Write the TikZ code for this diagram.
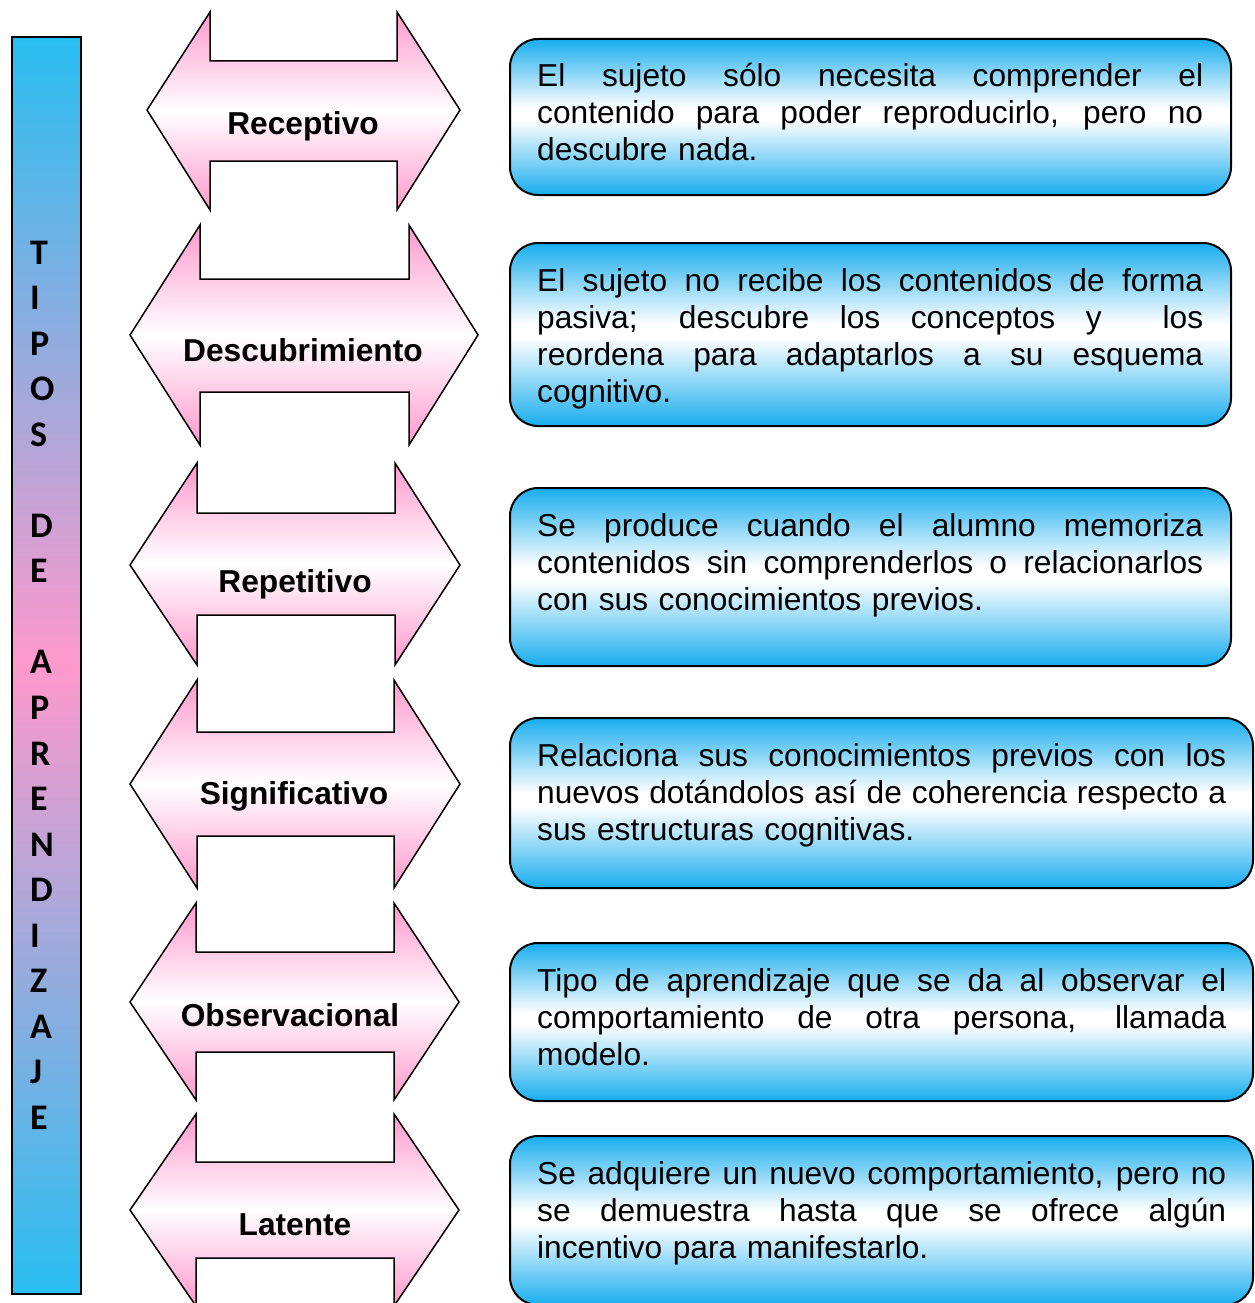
\documentclass[tikz,border=0pt]{standalone}
\usepackage{fontspec}
\setmainfont{Liberation Sans}
\newfontfamily\barfont{Carlito}
\definecolor{bcyan}{RGB}{24,173,238}
\definecolor{barcyan}{RGB}{41,190,240}
\definecolor{barpink}{RGB}{255,153,204}
\definecolor{apink}{RGB}{255,153,204}
\pgfdeclareverticalshading{boxshade}{100bp}{color(0bp)=(bcyan); color(25bp)=(bcyan); color(49bp)=(white); color(53bp)=(white); color(75bp)=(bcyan); color(100bp)=(bcyan)}
\newcommand\JA[1]{\leavevmode\hbox to 666pt{\spaceskip=0.278em plus 1fil minus 0.08em\xspaceskip=\spaceskip #1}}
\newcommand\JB[1]{\leavevmode\hbox to 689pt{\spaceskip=0.278em plus 1fil minus 0.08em\xspaceskip=\spaceskip #1}}
\begin{document}
\begin{tikzpicture}[x=1pt,y=-1pt,
  barbox/.style={draw=black, line width=2pt, top color=barcyan, bottom color=barcyan, middle color=barpink},
  bartext/.style={inner sep=0pt, align=left, font=\barfont\bfseries\fontsize{36}{45.53}\selectfont},
  dblarrow/.style={draw=black, line width=1.5pt, line join=miter, top color=apink, bottom color=apink, middle color=white},
  arrowlabel/.style={inner sep=0pt, font=\bfseries\fontsize{31.7}{37}\selectfont},
  descbox/.style={draw=black, line width=2pt, rounded corners=28pt, shading=boxshade, inner sep=0pt, anchor=north west},
  desctext/.style={inner sep=0pt, anchor=north west, font=\fontsize{31.7}{37}\selectfont}
]
\useasboundingbox (0,0) rectangle (1254,1303);

% left bar
\node[barbox, minimum width=69pt, minimum height=1257pt, inner sep=0pt, anchor=north west] (bar) at (11,36) {};
\node[bartext, anchor=north west] (title) at (30,229) {\rule{0pt}{35pt}T\\I\\P\\O\\S\\\mbox{}\\D\\E\\\mbox{}\\A\\P\\R\\E\\N\\D\\I\\Z\\A\\J\\E};

% double arrows
\foreach \xa/\xb/\xc/\xd/\ya/\yb/\yc/\yd/\ye in {
  147/210/397/460/12/61/110/161/210,
  130/200/409/478/225/279/335/392/445,
  130/197/395/460/463/513/565/615/665,
  130/197/394/460/680/732/784/836/888,
  130/196/394/459/903/952/1002/1052/1100,
  130/196/394/459/1114/1162/1210/1258/1306}
  \path[dblarrow] (\xa,\yc) -- (\xb,\ya) -- (\xb,\yb) -- (\xc,\yb) -- (\xc,\ya) -- (\xd,\yc) -- (\xc,\ye) -- (\xc,\yd) -- (\xb,\yd) -- (\xb,\ye) -- cycle;

\node[arrowlabel] (a1) at (303,126) {Receptivo};
\node[arrowlabel] (a2) at (303,350) {Descubrimiento};
\node[arrowlabel] (a3) at (295,584) {Repetitivo};
\node[arrowlabel] (a4) at (294,796) {Significativo};
\node[arrowlabel] (a5) at (290,1015) {Observacional};
\node[arrowlabel] (a6) at (295,1225) {Latente};

% description boxes
\node[descbox, minimum width=721pt, minimum height=156pt] (d1) at (509,38) {};
\node[descbox, minimum width=721pt, minimum height=183pt] (d2) at (509,242) {};
\node[descbox, minimum width=721pt, minimum height=178pt] (d3) at (509,487) {};
\node[descbox, minimum width=743pt, minimum height=170pt] (d4) at (509,717) {};
\node[descbox, minimum width=743pt, minimum height=158pt] (d5) at (509,942) {};
\node[descbox, minimum width=743pt, minimum height=169pt] (d6) at (509,1135) {};

\node[desctext, text width=666pt] (t1) at (537,56) {\noindent\rule{0pt}{30pt}\JA{El sujeto sólo necesita comprender el}\\\JA{contenido para poder reproducirlo, pero no}\\descubre nada.};
\node[desctext, text width=666pt] (t2) at (537,261) {\noindent\rule{0pt}{30pt}\JA{El sujeto no recibe los contenidos de forma}\\\JA{pasiva; descubre los conceptos y\ \ los}\\\JA{reordena para adaptarlos a su esquema}\\cognitivo.};
\node[desctext, text width=666pt] (t3) at (537,506) {\noindent\rule{0pt}{30pt}\JA{Se produce cuando el alumno memoriza}\\\JA{contenidos sin comprenderlos o relacionarlos}\\con sus conocimientos previos.};
\node[desctext, text width=689pt] (t4) at (537,736) {\noindent\rule{0pt}{30pt}\JB{Relaciona sus conocimientos previos con los}\\\JB{nuevos dotándolos así de coherencia respecto a}\\sus estructuras cognitivas.};
\node[desctext, text width=689pt] (t5) at (537,961) {\noindent\rule{0pt}{30pt}\JB{Tipo de aprendizaje que se da al observar el}\\\JB{comportamiento de otra persona, llamada}\\modelo.};
\node[desctext, text width=689pt] (t6) at (537,1154) {\noindent\rule{0pt}{30pt}\JB{Se adquiere un nuevo comportamiento, pero no}\\\JB{se demuestra hasta que se ofrece algún}\\incentivo para manifestarlo.};
\end{tikzpicture}
\end{document}
